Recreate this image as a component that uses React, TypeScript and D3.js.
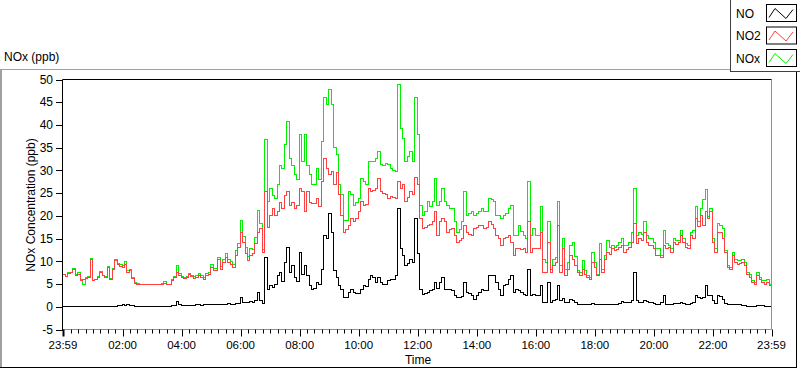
import React from 'react';
import * as d3 from 'd3';

// 5-minute samples, starting at 23:59 (minute 0) and ending 24 h later
const STEP_MIN = 5;

const no2: number[] = [
  7.0, 6.6, 7.4, 7.5, 8.3, 6.9, 7.2, 5.8, 6.1, 6.3, 6.5, 10.4,
  5.7, 6.0, 6.5, 7.6, 6.8, 6.5, 8.7, 6.1, 8.3, 10.2, 9.3, 8.9,
  8.7, 9.4, 7.6, 8.0, 6.3, 5.2, 5.0, 4.9, 4.9, 4.8, 4.9, 4.9,
  4.8, 4.9, 4.8, 4.9, 5.0, 5.1, 4.9, 4.8, 5.8, 6.5, 7.6, 6.9,
  6.5, 6.3, 6.5, 7.1, 6.6, 6.3, 6.4, 6.9, 6.5, 6.1, 6.9, 7.1,
  8.7, 8.0, 8.0, 10.5, 8.3, 9.8, 10.9, 9.8, 9.4, 8.7, 11.3, 13.1,
  16.4, 14.2, 11.8, 10.2, 11.3, 11.7, 13.9, 16.4, 17.2, 12.0, 25.3, 17.5,
  20.0, 21.6, 20.0, 21.0, 23.0, 21.6, 24.5, 25.3, 22.3, 23.0, 21.6, 22.3,
  26.0, 25.3, 21.0, 25.3, 23.0, 22.7, 22.7, 23.8, 22.0, 27.5, 32.7, 30.5,
  29.0, 29.7, 27.0, 29.5, 24.6, 20.1, 16.4, 17.0, 17.9, 19.4, 18.7, 19.5,
  20.9, 23.1, 22.3, 22.5, 26.0, 25.3, 25.5, 26.0, 28.2, 25.3, 25.0, 24.6,
  23.8, 24.2, 24.0, 23.8, 27.5, 26.0, 26.8, 23.1, 24.0, 25.3, 24.6, 28.4,
  27.0, 19.4, 17.2, 17.5, 17.9, 18.0, 18.7, 20.9, 15.7, 18.7, 19.4, 18.7,
  16.4, 17.0, 17.2, 15.7, 14.2, 14.5, 15.0, 17.9, 16.4, 16.0, 15.7, 17.2,
  17.5, 17.9, 17.9, 17.2, 17.5, 18.7, 18.0, 17.2, 15.7, 15.0, 13.5, 15.0,
  15.2, 15.7, 14.2, 11.3, 12.8, 12.8, 12.5, 12.8, 12.0, 18.7, 12.0, 12.8,
  12.8, 12.8, 16.4, 7.6, 7.6, 14.2, 7.6, 9.1, 9.8, 17.9, 7.6, 12.8,
  6.9, 8.3, 11.3, 10.5, 9.0, 7.6, 6.9, 8.3, 7.0, 6.5, 6.1, 9.8,
  8.7, 6.9, 10.5, 7.6, 10.5, 12.0, 11.5, 12.8, 12.4, 12.5, 13.1, 13.5,
  12.0, 12.5, 13.1, 14.2, 18.3, 13.9, 15.0, 14.5, 16.4, 14.2, 13.5, 13.5,
  12.8, 11.3, 11.3, 10.9, 13.5, 12.8, 13.1, 12.0, 14.2, 13.8, 14.2, 15.7,
  14.2, 13.1, 12.8, 15.7, 15.0, 19.4, 17.6, 20.1, 17.9, 20.9, 19.4, 20.9,
  14.2, 12.0, 16.4, 16.4, 15.0, 12.0, 8.7, 8.3, 11.3, 9.8, 9.4, 9.6,
  9.8, 9.1, 7.2, 6.5, 5.4, 5.0, 6.9, 6.0, 5.4, 5.0, 5.4, 4.6, 4.6,
];

const nox: number[] = [
  7.1, 6.7, 7.5, 7.6, 8.4, 7.0, 7.6, 5.9, 4.8, 6.4, 6.6, 10.6,
  5.8, 6.0, 6.6, 7.7, 6.8, 6.6, 8.8, 6.2, 8.4, 10.4, 9.5, 9.2,
  9.1, 9.9, 8.0, 8.3, 6.5, 5.3, 5.1, 4.9, 5.0, 4.8, 5.0, 4.9,
  4.9, 4.9, 4.9, 4.9, 5.1, 5.6, 4.9, 4.9, 6.0, 6.7, 9.0, 7.3,
  6.7, 6.5, 6.7, 7.4, 6.9, 6.6, 6.8, 7.3, 6.8, 6.5, 7.4, 7.5,
  9.2, 8.5, 8.5, 10.9, 8.9, 10.4, 11.7, 10.3, 10.0, 9.3, 12.4, 13.9,
  18.9, 15.4, 13.0, 11.0, 12.8, 12.6, 15.3, 21.2, 18.4, 12.6, 36.7, 23.1,
  26.0, 24.5, 23.8, 27.0, 31.0, 30.5, 35.6, 40.8, 32.7, 31.0, 29.0, 28.0,
  38.0, 32.0, 38.0, 31.0, 29.0, 27.0, 27.0, 30.5, 28.0, 36.4, 46.0, 44.5,
  47.8, 44.5, 35.0, 33.4, 27.0, 24.6, 19.0, 19.0, 25.3, 24.6, 22.3, 23.0,
  23.8, 28.2, 27.5, 27.0, 31.9, 31.9, 32.0, 32.7, 34.1, 31.2, 31.0, 31.6,
  31.2, 30.5, 30.0, 29.7, 48.9, 39.3, 37.1, 31.9, 33.0, 34.1, 31.9, 46.0,
  38.0, 22.3, 20.1, 21.0, 23.1, 22.0, 23.1, 28.2, 22.3, 23.1, 26.0, 23.1,
  22.3, 21.6, 21.6, 18.7, 16.4, 17.0, 18.7, 25.3, 20.1, 20.5, 20.9, 20.1,
  20.5, 20.9, 21.6, 20.9, 21.0, 23.8, 23.5, 23.1, 20.1, 20.1, 19.4, 20.1,
  20.5, 21.6, 22.3, 15.7, 15.7, 17.9, 16.5, 15.7, 15.0, 27.5, 15.7, 17.2,
  15.7, 15.7, 22.0, 10.5, 9.8, 18.7, 8.3, 10.5, 10.9, 23.1, 9.1, 15.0,
  8.3, 9.8, 13.5, 14.2, 11.0, 8.0, 7.6, 10.2, 8.0, 6.9, 6.5, 12.0,
  9.8, 7.2, 13.9, 8.3, 11.3, 14.6, 13.0, 13.5, 13.1, 13.5, 14.2, 15.0,
  13.5, 13.5, 14.2, 16.4, 26.0, 15.7, 16.4, 16.0, 18.7, 15.7, 15.0, 15.0,
  14.2, 12.8, 12.8, 11.3, 16.8, 13.9, 13.5, 12.8, 15.0, 14.6, 14.6, 16.8,
  15.0, 13.9, 13.5, 16.4, 16.8, 22.0, 18.7, 21.6, 23.5, 25.7, 19.8, 21.6,
  15.0, 12.8, 18.3, 17.9, 17.2, 12.4, 9.1, 8.7, 12.0, 10.5, 10.2, 10.2,
  10.5, 9.8, 7.6, 7.0, 5.8, 5.4, 7.6, 6.5, 5.8, 5.8, 6.1, 5.0, 5.0,
];

const no: number[] = [
  0.0, 0.1, 0.0, 0.1, 0.0, 0.1, 0.0, 0.1, 0.0, 0.1, 0.1, 0.0,
  0.1, 0.0, 0.1, 0.1, 0.0, 0.1, 0.1, 0.0, 0.1, 0.1, 0.2, 0.3,
  0.4, 0.3, 0.4, 0.3, 0.2, 0.1, 0.1, 0.0, 0.1, 0.0, 0.1, 0.0,
  0.1, 0.0, 0.1, 0.0, 0.1, 0.1, 0.0, 0.1, 0.2, 0.2, 1.1, 0.4,
  0.2, 0.2, 0.2, 0.3, 0.3, 0.3, 0.4, 0.4, 0.3, 0.4, 0.5, 0.4,
  0.4, 0.5, 0.5, 0.5, 0.6, 0.6, 0.6, 0.7, 0.6, 0.6, 0.8, 0.8,
  2.1, 1.0, 0.9, 1.0, 1.2, 1.0, 1.3, 3.2, 1.3, 0.8, 10.9, 3.9,
  4.6, 4.3, 4.8, 6.9, 7.6, 5.5, 9.8, 13.1, 7.6, 9.0, 6.4, 5.6,
  12.0, 7.0, 9.0, 6.9, 4.6, 3.9, 4.0, 5.4, 5.0, 8.3, 15.7, 15.0,
  20.5, 16.4, 8.0, 6.5, 4.6, 3.9, 2.1, 2.1, 3.2, 3.9, 3.2, 3.0,
  2.9, 3.9, 4.6, 4.5, 6.1, 6.9, 6.5, 5.4, 6.5, 5.4, 5.0, 5.0,
  5.7, 6.1, 6.0, 6.9, 21.6, 12.8, 11.3, 9.1, 9.5, 10.5, 9.8, 19.5,
  11.8, 3.9, 2.8, 3.0, 3.2, 3.5, 3.9, 5.4, 4.0, 5.4, 6.5, 3.9,
  3.9, 3.8, 3.5, 2.4, 2.1, 2.1, 2.2, 5.4, 3.2, 3.0, 2.4, 1.7,
  2.5, 3.2, 3.9, 3.5, 3.6, 6.9, 6.9, 6.9, 5.4, 3.9, 2.4, 4.6,
  5.0, 6.1, 6.9, 3.2, 3.9, 3.5, 3.2, 2.8, 2.4, 8.3, 2.4, 2.8,
  2.4, 2.4, 4.6, 1.0, 1.0, 5.4, 0.9, 1.3, 1.6, 4.6, 1.3, 1.8,
  1.0, 1.0, 1.7, 1.3, 1.0, 0.6, 0.4, 0.6, 0.4, 0.4, 0.4, 0.7,
  0.6, 0.4, 0.6, 0.4, 0.4, 0.6, 0.5, 0.4, 0.6, 0.6, 0.7, 1.1,
  1.0, 1.0, 1.0, 1.3, 7.6, 1.3, 1.0, 1.0, 1.3, 1.1, 1.0, 1.0,
  0.8, 0.6, 0.6, 0.9, 2.4, 0.6, 0.4, 0.6, 0.7, 0.8, 0.8, 1.0,
  0.8, 0.6, 0.4, 0.8, 1.0, 2.4, 2.0, 1.8, 2.1, 4.6, 2.4, 2.4,
  1.3, 0.8, 2.4, 2.2, 1.7, 0.8, 0.4, 0.4, 0.6, 0.4, 0.4, 0.4,
  0.2, 0.2, 0.1, 0.1, 0.1, 0.1, 0.2, 0.2, 0.2, 0.1, 0.0, 0.0, 0.0,
];

// x ticks: minutes after 23:59
const xTickMinutes = [0, 121, 241, 361, 481, 601, 721, 841, 961, 1081, 1201, 1321, 1440];
const xTickLabels = ['23:59', '02:00', '04:00', '06:00', '08:00', '10:00', '12:00', '14:00', '16:00', '18:00', '20:00', '22:00', '23:59'];
const yTicks = [-5, 0, 5, 10, 15, 20, 25, 30, 35, 40, 45, 50];

const legendItems = [
  { name: 'NO', color: '#000000' },
  { name: 'NO2', color: '#ff4040' },
  { name: 'NOx', color: '#00f000' },
];

const FONT = '"Liberation Sans", Arial, sans-serif';

const App: React.FC = () => {
  const width = 800;
  const height = 369;
  const plot = { left: 62.5, right: 771.5, top: 79.5, bottom: 329.5 };

  const x = d3.scaleLinear().domain([0, 1440]).range([63, plot.right]);
  const y = d3.scaleLinear().domain([-5, 50]).range([plot.bottom, plot.top]);

  const line = d3.line<number>()
    .x((_, i) => x(i * STEP_MIN))
    .y(d => y(d))
    .curve(d3.curveStepAfter);

  // minor ticks every 15 min of clock time
  const minorTicks: number[] = [];
  for (let m = 16; m < 1440; m += 15) {
    if (!xTickMinutes.includes(m)) minorTicks.push(m);
  }

  return (
    <svg width={width} height={height} style={{ position: 'absolute', left: 0, top: 0, background: '#fff' }}
      fontFamily={FONT}>
      <defs>
        <clipPath id="plotClip">
          <rect x={plot.left} y={plot.top} width={plot.right - plot.left} height={plot.bottom - plot.top} />
        </clipPath>
      </defs>

      {/* outer frame */}
      <line x1={0} y1={69.5} x2={731} y2={69.5} stroke="#a0a0a0" />
      <rect x={0} y={69} width={2} height={299} fill="#a0a0a0" />
      <line x1={0} y1={367.5} x2={797} y2={367.5} stroke="#000" />
      <line x1={796.5} y1={71} x2={796.5} y2={368} stroke="#000" />

      {/* chart title */}
      <text x={4} y={61} fontSize={12} fill="#000">NOx (ppb)</text>

      {/* legend */}
      <rect x={730.5} y={-1} width={80} height={72.5} fill="#fff" stroke="#404040" />
      {legendItems.map((d, i) => {
        const top = 4.5 + i * 22.5;
        return (
          <g key={d.name}>
            <text x={736} y={top + 13} fontSize={12} fill="#000">{d.name}</text>
            <rect x={766.5} y={top} width={30} height={17} fill="#fff" stroke="#000" />
            <polyline
              points={`${769},${top + 13} ${775},${top + 4} ${786},${top + 14} ${793},${top + 5}`}
              fill="none" stroke={d.color} strokeWidth={1} />
          </g>
        );
      })}

      {/* plot area */}
      <rect x={plot.left} y={plot.top} width={plot.right - plot.left} height={plot.bottom - plot.top} fill="#fff" />

      <g clipPath="url(#plotClip)" fill="none" strokeWidth={1} shapeRendering="crispEdges">
        <path d={line(nox) || ''} stroke="#00f000" />
        <path d={line(no2) || ''} stroke="#ff4040" />
        <path d={line(no) || ''} stroke="#000000" />
      </g>

      {/* plot borders */}
      <line x1={plot.right} y1={plot.top} x2={plot.right} y2={plot.bottom} stroke="#909090" />
      <line x1={plot.left} y1={plot.bottom} x2={plot.right} y2={plot.bottom} stroke="#909090" />
      <line x1={plot.left} y1={plot.top} x2={plot.right} y2={plot.top} stroke="#000" />
      <line x1={plot.left} y1={plot.top} x2={plot.left} y2={plot.bottom + 1} stroke="#000" />

      {/* y axis */}
      {yTicks.map(t => (
        <g key={t}>
          <line x1={56} x2={plot.left} y1={Math.round(y(t)) + 0.5} y2={Math.round(y(t)) + 0.5} stroke="#000" />
          <text x={53} y={y(t)} dy="0.35em" textAnchor="end" fontSize={12} fill="#000">{t}</text>
        </g>
      ))}
      <text transform="translate(35,205) rotate(-90)" textAnchor="middle" fontSize={12} fill="#000">
        NOx Concentration (ppb)
      </text>

      {/* x axis */}
      {minorTicks.map(m => (
        <line key={m} x1={Math.round(x(m)) + 0.5} x2={Math.round(x(m)) + 0.5} y1={plot.bottom} y2={plot.bottom + 4} stroke="#000" />
      ))}
      {xTickMinutes.map((m, i) => (
        <g key={m}>
          <line x1={Math.round(x(m)) + 0.5} x2={Math.round(x(m)) + 0.5} y1={plot.bottom} y2={plot.bottom + 7} stroke="#000" strokeWidth={i === 0 ? 2 : 1} />
          <text x={x(m)} y={349} textAnchor="middle" fontSize={11.5} fill="#000">{xTickLabels[i]}</text>
        </g>
      ))}
      <text x={418} y={364} textAnchor="middle" fontSize={12} fill="#000">Time</text>
    </svg>
  );
};

export default App;
